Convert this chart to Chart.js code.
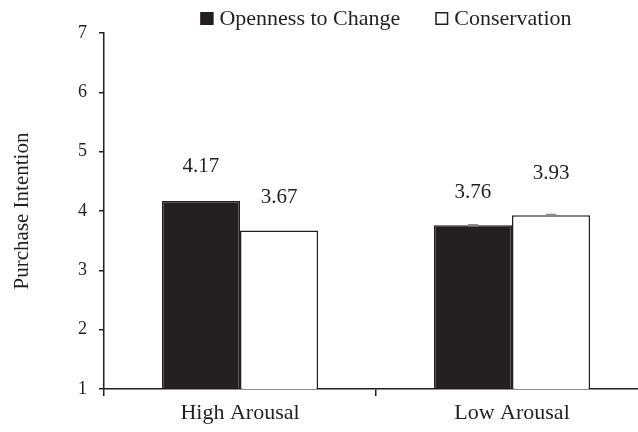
<!DOCTYPE html>
<html>
<head>
<meta charset="utf-8">
<script src="https://cdn.jsdelivr.net/npm/chart.js@4/dist/chart.umd.min.js"></script>
<style>
html,body{margin:0;padding:0;overflow:hidden;background:#fff;width:638px;height:432px;}
#wrap{width:648px;height:432px;}
</style>
</head>
<body>
<div id="wrap"><canvas id="c" width="648" height="432"></canvas></div>
<script>
const categories = ["High Arousal", "Low Arousal"];
const seriesNames = ["Openness to Change", "Conservation"];
const openness = [4.17, 3.76];
const conservation = [3.67, 3.93];
const opennessErr = [0, 0.01];
const conservationErr = [0, 0.01];
const yTicks = [1, 2, 3, 4, 5, 6, 7];

const INK = '#231f20';
const FONT = '"Liberation Serif", "Times New Roman", serif';

const labelOffsets = [[34, 33], [33, 42]]; // px above bar top, per dataset per category

const valueLabels = {
  id: 'valueLabels',
  afterDatasetsDraw(chart) {
    const ctx = chart.ctx;
    ctx.save();
    ctx.font = '21px ' + FONT;
    ctx.fillStyle = INK;
    ctx.textAlign = 'center';
    ctx.textBaseline = 'middle';
    chart.data.datasets.forEach((ds, di) => {
      const meta = chart.getDatasetMeta(di);
      meta.data.forEach((bar, i) => {
        const off = labelOffsets[i][di];
        ctx.fillText(ds.data[i].toFixed(2), bar.x, bar.y - off);
      });
    });
    ctx.restore();
  }
};

const errorCaps = {
  id: 'errorCaps',
  afterDatasetsDraw(chart) {
    const ctx = chart.ctx;
    const y = chart.scales.y;
    ctx.save();
    ctx.strokeStyle = '#8a8a8a';
    ctx.lineWidth = 1.5;
    chart.data.datasets.forEach((ds, di) => {
      const meta = chart.getDatasetMeta(di);
      meta.data.forEach((bar, i) => {
        const e = ds.err[i];
        if (!e) return;
        const v = ds.data[i];
        const top = y.getPixelForValue(v + e);
        const bot = y.getPixelForValue(v - e);
        ctx.beginPath();
        ctx.moveTo(bar.x - 5, top); ctx.lineTo(bar.x + 5, top);
        ctx.moveTo(bar.x, top); ctx.lineTo(bar.x, bot);
        ctx.moveTo(bar.x - 5, bot); ctx.lineTo(bar.x + 5, bot);
        ctx.stroke();
      });
    });
    ctx.restore();
  }
};

const customLegend = {
  id: 'customLegend',
  afterDraw(chart) {
    const ctx = chart.ctx;
    ctx.save();
    ctx.font = '22px ' + FONT;
    ctx.textBaseline = 'middle';
    ctx.textAlign = 'left';
    const box = 13, gapText = 6, gapItem = 35, cy = 18.5;
    const items = chart.data.datasets.map(ds => ({
      label: ds.label, fill: ds.backgroundColor, stroke: ds.borderColor,
      w: box + gapText + ctx.measureText(ds.label).width
    }));
    const total = items.reduce((s, it) => s + it.w, 0) + gapItem * (items.length - 1);
    let x = 386 - total / 2;
    items.forEach(it => {
      ctx.fillStyle = it.fill;
      ctx.fillRect(x, cy - box / 2, box, box);
      ctx.strokeStyle = it.stroke;
      ctx.lineWidth = 1.5;
      ctx.strokeRect(x + 0.75, cy - box / 2 + 0.75, box - 1.5, box - 1.5);
      ctx.fillStyle = INK;
      ctx.fillText(it.label, x + box + gapText, cy + 1);
      x += it.w + gapItem;
    });
    ctx.restore();
  }
};

new Chart(document.getElementById('c'), {
  type: 'bar',
  data: {
    labels: categories,
    datasets: [
      { label: seriesNames[0], data: openness, err: opennessErr,
        backgroundColor: INK, borderColor: INK, borderWidth: 1.5 },
      { label: seriesNames[1], data: conservation, err: conservationErr,
        backgroundColor: '#ffffff', borderColor: INK, borderWidth: 1.5 }
    ]
  },
  options: {
    responsive: false,
    animation: false,
    devicePixelRatio: 1,
    layout: { padding: { top: 33, left: 0, right: 0, bottom: 0 } },
    datasets: { bar: { categoryPercentage: 0.574, barPercentage: 1.0 } },
    plugins: {
      legend: { display: false },
      tooltip: { enabled: false }
    },
    scales: {
      x: {
        grid: { display: true, drawOnChartArea: false, drawTicks: true, tickLength: 7, color: INK, lineWidth: 1.5, offset: true },
        border: { display: true, color: INK, width: 1.5 },
        ticks: { font: { family: FONT, size: 22 }, color: INK, padding: 4 },
        afterFit(s) { s.height = 43; }
      },
      y: {
        min: 1, max: 7,
        afterBuildTicks(s) { s.ticks = yTicks.map(v => ({ value: v })); },
        grid: { display: true, drawOnChartArea: false, drawTicks: true, tickLength: 5, color: INK, lineWidth: 1.5 },
        border: { display: true, color: INK, width: 1.5 },
        ticks: { font: { family: FONT, size: 18 }, color: INK, padding: 12 },
        title: { display: true, text: 'Purchase Intention', font: { family: FONT, size: 21 }, color: INK, padding: { top: 10, bottom: 0 } },
        afterFit(s) { s.width = 104; }
      }
    }
  },
  plugins: [valueLabels, errorCaps, customLegend]
});
</script>
</body>
</html>
